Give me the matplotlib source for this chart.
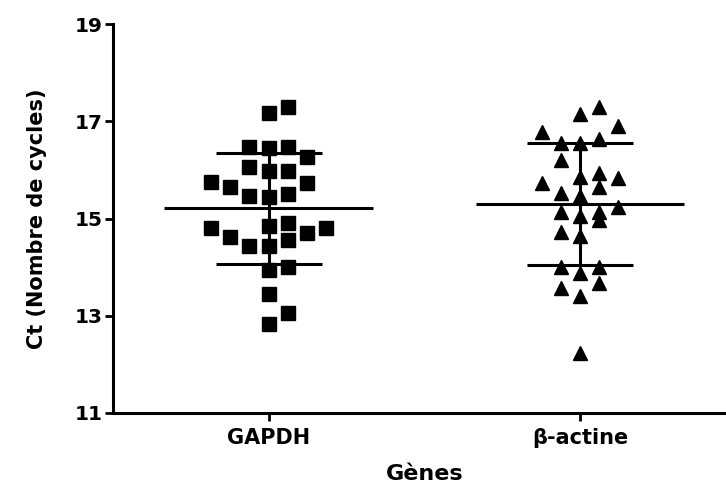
import matplotlib
matplotlib.use('Agg')
import matplotlib.pyplot as plt
import numpy as np

plt.rcParams['font.family'] = ['DejaVu Sans']
plt.rcParams['font.weight'] = 'bold'

# Data (Ct values)
genes = ['GAPDH', 'β-actine']

gapdh_ct = [17.17, 17.29, 16.47, 16.45, 16.47, 16.27, 16.06, 15.97, 15.97,
            15.75, 15.64, 15.74, 15.47, 15.45, 15.50, 14.80, 14.61, 14.44,
            14.85, 14.44, 14.90, 14.55, 14.71, 14.80, 13.94, 14.00, 13.45,
            13.06, 12.83]
actine_ct = [17.15, 17.29, 16.91, 16.77, 16.56, 16.56, 16.63, 16.21, 15.85,
             15.94, 15.83, 15.74, 15.64, 15.53, 15.47, 15.24, 15.14, 15.05,
             15.14, 14.97, 14.73, 14.63, 14.00, 13.87, 14.00, 13.57, 13.68,
             13.41, 12.23]

# column slot of each point in the scatter (layout only)
gapdh_slot = [0, 1, -1, 0, 1, 2, -1, 0, 1, -3, -2, 2, -1, 0, 1, -3, -2, -1,
              0, 0, 1, 1, 2, 3, 0, 1, 0, 1, 0]
actine_slot = [0, 1, 2, -2, -1, 0, 1, -1, 0, 1, 2, -2, 1, -1, 0, 2, -1, 0,
               1, 1, -1, 0, -1, 0, 1, -1, 1, 0, 0]

groups = [(gapdh_ct, gapdh_slot, 's'), (actine_ct, actine_slot, '^')]

fig = plt.figure(figsize=(7.26, 4.87), dpi=100)
ax = fig.add_axes([113 / 726, 74 / 487, 622.5 / 726, 389 / 487])

step = 0.0615
lw = 2.2
for i, (vals, slots, mk) in enumerate(groups):
    vals = np.array(vals)
    xs = i + np.array(slots) * step
    ax.plot(xs, vals, linestyle='none', marker=mk, markersize=9.5,
            color='black', clip_on=False, zorder=3)
    # mean +/- SD
    m = vals.mean()
    sd = vals.std(ddof=1)
    ax.hlines(m, i - 0.335, i + 0.335, color='black', linewidth=lw, zorder=4)
    ax.hlines([m - sd, m + sd], i - 0.17, i + 0.17, color='black', linewidth=lw, zorder=4)
    ax.vlines(i, m - sd, m + sd, color='black', linewidth=lw, zorder=4)

ax.set_xlim(-0.5, 1.5)
ax.set_ylim(11, 19)
ax.set_yticks([11, 13, 15, 17, 19])
ax.set_xticks([0, 1])
ax.set_xticklabels(genes)

for s in ['top', 'right']:
    ax.spines[s].set_visible(False)
for s in ['left', 'bottom']:
    ax.spines[s].set_linewidth(lw)

ax.tick_params(direction='out', length=6, width=2, labelsize=14.5)
ax.tick_params(axis='y', pad=1.5)
ax.tick_params(axis='x', pad=5, labelsize=15)

ax.set_ylabel('Ct (Nombre de cycles)', fontsize=15, fontweight='bold', labelpad=20)
ax.set_xlabel('Gènes', fontsize=16, fontweight='bold', labelpad=11)

fig.savefig('out.png', dpi=100)
